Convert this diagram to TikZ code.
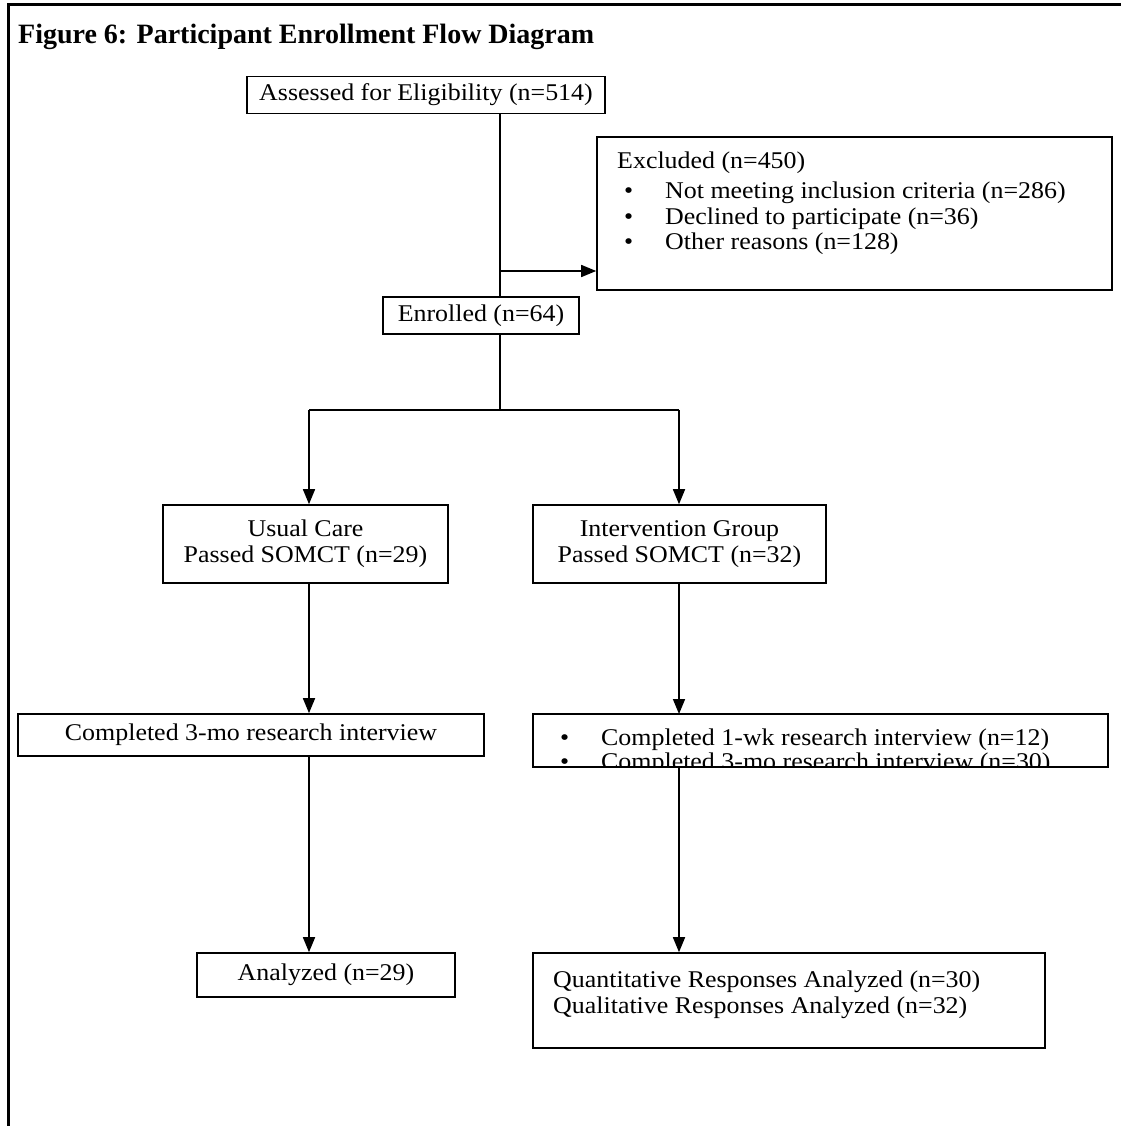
\documentclass[tikz,border=0pt]{standalone}
\usepackage{fontspec}
\setmainfont{Liberation Serif}[FakeStretch=1.08]
\newfontfamily\titlefont{Liberation Serif}
\usetikzlibrary{arrows.meta}
\newcommand\mybody{\fontsize{24}{26}\selectfont}
\newcommand\mybul{\makebox[41pt][l]{\textbullet}}
\begin{document}
\begin{tikzpicture}[x=1pt,y=-1pt,
  box/.style={draw, line width=1.6pt, inner sep=0pt, font=\mybody, align=center},
  txt/.style={inner sep=0pt, font=\mybody, anchor=base west},
  conn/.style={line width=1.6pt},
  arr/.style={conn, -{Triangle[length=15pt,width=12pt]}},
  frame/.style={line width=3pt}]
\useasboundingbox (0,0) rectangle (1121,1126);
% frame
\coordinate (fbl) at (8,1126);
\coordinate (ftl) at (8,5);
\coordinate (ftr) at (1121,5);
\draw[frame] (fbl) -- (ftl) -- (ftr);
% title
\node[inner sep=0pt, anchor=base west, font=\titlefont\fontsize{28}{32}\selectfont\bfseries] (title) at (18,44) {Figure 6: Participant Enrollment Flow Diagram};
% boxes
\node[box, minimum width=358pt, minimum height=37pt] (assess) at (426,95) {Assessed for Eligibility (n=514)};
\node[box, minimum width=515pt, minimum height=153pt] (excl) at (854.5,213.5) {};
\node[txt] (exclt) at (617,169) {\begin{tabular}[t]{@{}l@{}}Excluded (n=450)\\[3pt]
\hspace{7pt}\mybul Not meeting inclusion criteria (n=286)\\
\hspace{7pt}\mybul Declined to participate (n=36)\\
\hspace{7pt}\mybul Other reasons (n=128)\end{tabular}};
\node[box, minimum width=196pt, minimum height=37pt] (enr) at (481,315.5) {Enrolled (n=64)};
\node[box, minimum width=285pt, minimum height=78pt] (uc) at (305.5,544) {Usual Care\\Passed SOMCT (n=29)};
\node[box, minimum width=293pt, minimum height=78pt] (ig) at (679.5,544) {Intervention Group\\Passed SOMCT (n=32)};
\node[box, minimum width=466pt, minimum height=42pt] (lthree) at (251,735) {Completed 3-mo research interview};
\node[box, draw=none, outer sep=0pt, minimum width=575pt, minimum height=53pt] (rthree) at (820.5,740.5) {};
\begin{scope}
\clip (rthree.south west) rectangle (rthree.north east);
\node[txt, font=\fontsize{24}{24}\selectfont] (rthreet) at (533,745) {\begin{tabular}[t]{@{}l@{}}\hspace{27pt}\mybul Completed 1-wk research interview (n=12)\\
\hspace{27pt}\mybul Completed 3-mo research interview (n=30)\end{tabular}};
\end{scope}
\draw[line width=1.6pt] (rthree.south west) rectangle (rthree.north east);
\node[box, minimum width=258pt, minimum height=44pt] (anl) at (326,975) {Analyzed (n=29)};
\node[box, minimum width=512pt, minimum height=95pt] (anr) at (789,1000.5) {};
\node[txt] (anrt) at (553,987) {\begin{tabular}[t]{@{}l@{}}Quantitative Responses Analyzed (n=30)\\
Qualitative Responses Analyzed (n=32)\end{tabular}};
% connectors
\coordinate (stem) at (500,0);
\coordinate (jx) at (500,271);
\coordinate (br) at (500,410);
\coordinate (brl) at (309,410);
\coordinate (brr) at (679,410);
\draw[conn] (assess.south -| stem) -- (enr.north -| stem);
\draw[arr] (jx) -- (excl.west |- jx);
\draw[conn] (enr.south -| stem) -- (br);
\draw[conn] (brl) -- (brr);
\draw[arr] (brl) -- (uc.north -| brl);
\draw[arr] (brr) -- (ig.north -| brr);
\draw[arr] (uc.south -| brl) -- (lthree.north -| brl);
\draw[arr] (ig.south -| brr) -- (rthree.north -| brr);
\draw[arr] (lthree.south -| brl) -- (anl.north -| brl);
\draw[arr] (rthree.south -| brr) -- (anr.north -| brr);
\end{tikzpicture}
\end{document}
